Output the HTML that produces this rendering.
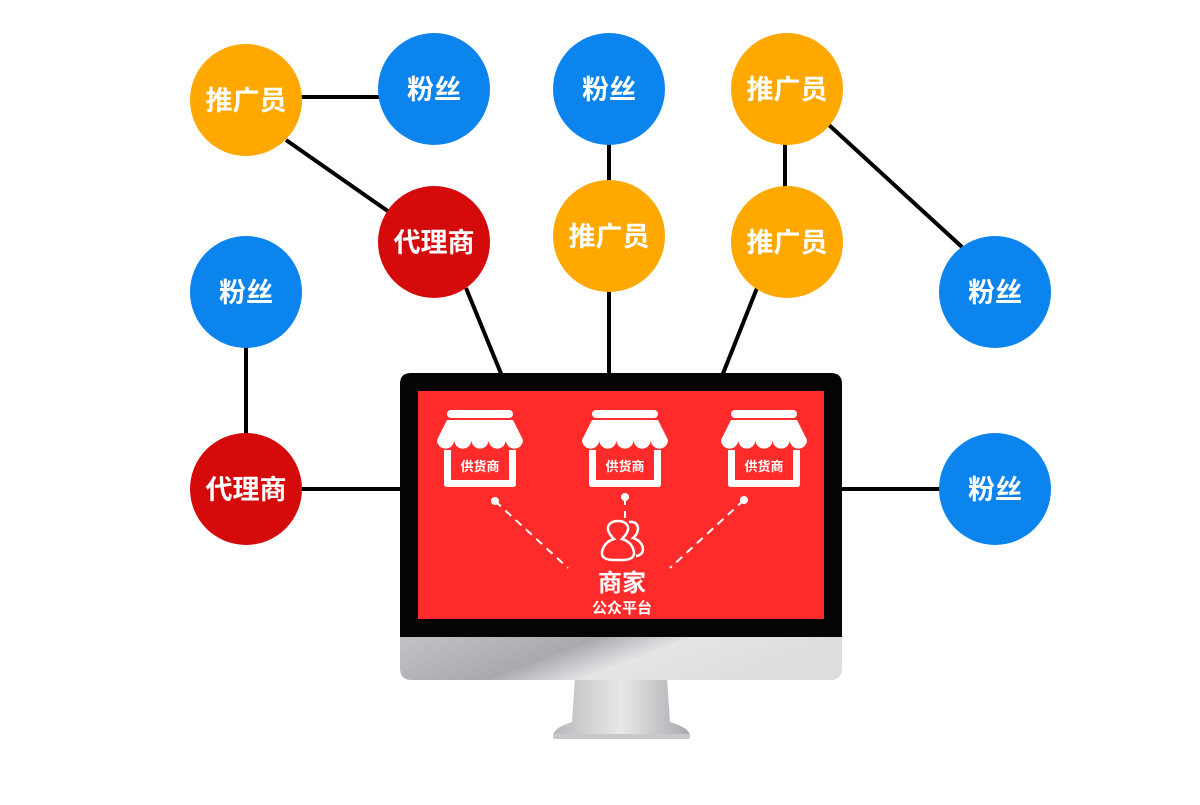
<!DOCTYPE html>
<html><head><meta charset="utf-8"><style>
body{margin:0;background:#fff;}
svg text{font-family:"Liberation Sans","Noto Sans CJK SC",sans-serif;font-weight:bold;fill:#fff;text-anchor:middle;}
</style></head><body>
<svg width="1200" height="800" viewBox="0 0 1200 800" xmlns="http://www.w3.org/2000/svg">
<defs>
<linearGradient id="sil" x1="0" y1="0" x2="1" y2="0.3">
<stop offset="0" stop-color="#c4c5c8"/><stop offset="0.45" stop-color="#a9aaae"/><stop offset="0.65" stop-color="#e4e5e7"/><stop offset="1" stop-color="#dcdddf"/></linearGradient>
<linearGradient id="st" x1="0" y1="0" x2="1" y2="0">
<stop offset="0" stop-color="#b8b9bc"/><stop offset="0.5" stop-color="#e8e8ea"/><stop offset="1" stop-color="#a8a9ad"/></linearGradient>
<g id="store">
<rect x="-33" y="0" width="66" height="8" rx="4" fill="#fff"/>
<path d="M-33 10 H33 L43 30 A8.6 8.6 0 0 1 25.8 30 A8.6 8.6 0 0 1 8.6 30 A8.6 8.6 0 0 1 -8.6 30 A8.6 8.6 0 0 1 -25.8 30 A8.6 8.6 0 0 1 -43 30 Z" fill="#fff"/>
<path d="M-36 40 V74 Q-36 77 -33 77 H33 Q36 77 36 74 V40 H29 V70 H-29 V40 Z" fill="#fff"/>
<text x="0" y="61" font-size="13">供货商</text>
</g>
</defs>
<g stroke="#000" stroke-width="4">
<line x1="246" y1="97" x2="434" y2="97"/>
<line x1="286" y1="140" x2="392" y2="214"/>
<line x1="609" y1="140" x2="609" y2="185"/>
<line x1="785" y1="140" x2="785" y2="190"/>
<line x1="829" y1="125" x2="962" y2="247"/>
<line x1="246" y1="340" x2="246" y2="440"/>
<line x1="295" y1="489" x2="402" y2="489"/>
<line x1="840" y1="489" x2="945" y2="489"/>
<line x1="466" y1="288" x2="502" y2="376"/>
<line x1="609" y1="290" x2="609" y2="376"/>
<line x1="757" y1="288" x2="722" y2="376"/>
</g>
<path d="M575 678 H667 L670 722 Q690 728 690 736 H553 Q553 728 572 722 Z" fill="url(#st)"/>
<rect x="553" y="734" width="137" height="5" rx="2" fill="#c8c9cc"/>
<path d="M400 630 H842 V668 Q842 680 830 680 H412 Q400 680 400 668 Z" fill="url(#sil)"/>
<path d="M400 384 Q400 373 411 373 H831 Q842 373 842 384 V637 H400 Z" fill="#050505"/>
<rect x="418" y="391" width="406" height="228" fill="#ff2b2b"/>
<use href="#store" x="480" y="410"/>
<use href="#store" x="625" y="410"/>
<use href="#store" x="764" y="410"/>
<g stroke="#fff" stroke-width="2" stroke-dasharray="8,6" fill="none">
<line x1="495" y1="501" x2="568" y2="568"/>
<line x1="625" y1="497" x2="625" y2="518"/>
<line x1="744" y1="500" x2="670" y2="568"/>
</g>
<g fill="#fff"><circle cx="495" cy="501" r="4"/><circle cx="625" cy="497" r="4"/><circle cx="744" cy="500" r="4"/></g>
<g stroke="#fff" stroke-width="2.5" fill="none">
<path d="M614 560 Q601 560 602 552 Q604 542 614 539 Q607 532 608 527 Q610 521 618 521 Q626 521 628 527 Q629 532 622 539 Q632 542 634 552 Q635 560 622 560 Z"/>
<path d="M629 522 Q637 521 638 528 Q638 534 633 538 Q642 541 643 549 Q643 555 636 556"/>
</g>
<text x="622" y="591" font-size="24">商家</text>
<text x="622" y="613" font-size="15">公众平台</text>
<g font-size="27">
<circle cx="246" cy="100" r="56" fill="#ffa800"/><text x="246" y="110">推广员</text>
<circle cx="434" cy="89" r="56" fill="#0c84ee"/><text x="434" y="99">粉丝</text>
<circle cx="609" cy="89" r="56" fill="#0c84ee"/><text x="609" y="99">粉丝</text>
<circle cx="787" cy="89" r="56" fill="#ffa800"/><text x="787" y="99">推广员</text>
<circle cx="434" cy="242" r="56" fill="#d50b0b"/><text x="434" y="252">代理商</text>
<circle cx="609" cy="236" r="56" fill="#ffa800"/><text x="609" y="246">推广员</text>
<circle cx="787" cy="242" r="56" fill="#ffa800"/><text x="787" y="252">推广员</text>
<circle cx="246" cy="292" r="56" fill="#0c84ee"/><text x="246" y="302">粉丝</text>
<circle cx="995" cy="292" r="56" fill="#0c84ee"/><text x="995" y="302">粉丝</text>
<circle cx="246" cy="489" r="56" fill="#d50b0b"/><text x="246" y="499">代理商</text>
<circle cx="995" cy="489" r="56" fill="#0c84ee"/><text x="995" y="499">粉丝</text>
</g>
</svg>
</body></html>
